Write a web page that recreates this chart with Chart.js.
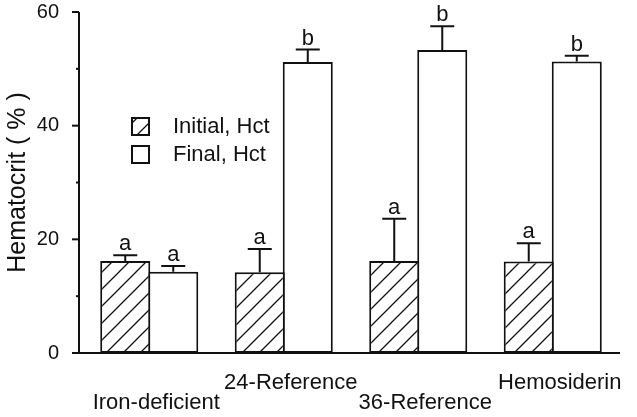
<!DOCTYPE html>
<html>
<head>
<meta charset="utf-8">
<script src="https://cdn.jsdelivr.net/npm/chart.js@4.4.1/dist/chart.umd.min.js"></script>
<style>
  html, body { margin: 0; padding: 0; background: #fff; }
  #wrap { width: 637px; height: 417px; }
</style>
</head>
<body>
<div id="wrap"><canvas id="hctChart" width="637" height="417"></canvas></div>
<script>
// ---- data ----
const categories = ['Iron-deficient', '24-Reference', '36-Reference', 'Hemosiderin'];
const initialHct = [16.2, 14.2, 16.2, 16.1];
const initialErr = [1.0, 4.1, 7.4, 3.2];
const finalHct = [14.3, 51.2, 53.3, 51.3];
const finalErr = [1.0, 2.2, 4.2, 1.0];
const initialLetters = ['a', 'a', 'a', 'a'];
const finalLetters = ['a', 'b', 'b', 'b'];
const yTicks = [0, 20, 40, 60];

const FONT = "'Liberation Sans', Arial, Helvetica, sans-serif";
const INK = '#111';

// diagonal hatch for the initial bars
function makeHatch() {
    const s = 17;
    const c = document.createElement('canvas');
    c.width = s; c.height = s;
    const g = c.getContext('2d');
    g.fillStyle = '#fff';
    g.fillRect(0, 0, s, s);
    g.strokeStyle = INK;
    g.lineWidth = 1.3;
    g.beginPath();
    g.moveTo(-2, s + 2); g.lineTo(s + 2, -2);
    g.moveTo(-2, 2); g.lineTo(2, -2);
    g.moveTo(s - 2, s + 2); g.lineTo(s + 2, s - 2);
    g.stroke();
    return g.createPattern(c, 'repeat');
}
const hatch = makeHatch();

// staggered x labels: odd ones sit on the first line
const xLabels = categories.map((c, i) => i % 2 === 0 ? ['', c] : [c, '']);

const errs = [initialErr, finalErr];
const letters = [initialLetters, finalLetters];

// axes with long/short ticks, error bars and letters, legend inside plot
const decorations = {
    id: 'decorations',
    afterDatasetsDraw(chart) {
        const ctx = chart.ctx;
        const area = chart.chartArea;
        const y = chart.scales.y;
        ctx.save();
        ctx.strokeStyle = INK;
        ctx.fillStyle = INK;

        // error bars + letters
        chart.data.datasets.forEach((ds, di) => {
            const meta = chart.getDatasetMeta(di);
            meta.data.forEach((bar, i) => {
                const top = y.getPixelForValue(ds.data[i] + errs[di][i]);
                ctx.lineWidth = 2;
                ctx.beginPath();
                ctx.moveTo(bar.x, bar.y);
                ctx.lineTo(bar.x, top);
                ctx.moveTo(bar.x - 12, top);
                ctx.lineTo(bar.x + 12, top);
                ctx.stroke();
                ctx.font = '22px ' + FONT;
                ctx.textAlign = 'center';
                ctx.textBaseline = 'alphabetic';
                ctx.fillText(letters[di][i], bar.x, top - 5);
            });
        });

        // axes
        const ax = area.left - 3;
        ctx.lineWidth = 2;
        ctx.beginPath();
        ctx.moveTo(ax, y.getPixelForValue(60));
        ctx.lineTo(ax, area.bottom);
        ctx.moveTo(ax - 7, area.bottom);
        ctx.lineTo(area.right, area.bottom);
        ctx.stroke();
        for (let v = 10; v <= 60; v += 10) {
            const py = y.getPixelForValue(v);
            const len = v % 20 === 0 ? 7 : 3;
            ctx.beginPath();
            ctx.moveTo(ax - len, py);
            ctx.lineTo(ax, py);
            ctx.stroke();
        }

        // legend
        const lx = area.left + 50;
        const rows = [{ fill: hatch, text: chart.data.datasets[0].label, y: area.top + 106 },
                      { fill: '#fff', text: chart.data.datasets[1].label, y: area.top + 134 }];
        rows.forEach(r => {
            ctx.fillStyle = r.fill;
            ctx.fillRect(lx, r.y, 17, 17);
            ctx.lineWidth = 2;
            ctx.strokeRect(lx, r.y, 17, 17);
            ctx.fillStyle = INK;
            ctx.font = '22px ' + FONT;
            ctx.textAlign = 'left';
            ctx.textBaseline = 'middle';
            ctx.fillText(r.text, lx + 41, r.y + 9);
        });
        ctx.restore();
    }
};

new Chart(document.getElementById('hctChart'), {
    type: 'bar',
    data: {
        labels: xLabels,
        datasets: [
            { label: 'Initial, Hct', data: initialHct, backgroundColor: hatch,
              borderColor: INK, borderWidth: 2, borderSkipped: false },
            { label: 'Final, Hct', data: finalHct, backgroundColor: '#fff',
              borderColor: INK, borderWidth: 2, borderSkipped: false }
        ]
    },
    options: {
        responsive: false,
        animation: false,
        devicePixelRatio: 1,
        categoryPercentage: 0.714,
        barPercentage: 1.042,
        layout: { padding: { top: 12, right: 17, left: 0, bottom: 0 } },
        plugins: { legend: { display: false }, tooltip: { enabled: false } },
        scales: {
            x: {
                grid: { display: false },
                border: { display: false },
                ticks: { color: INK, font: { family: FONT, size: 22, lineHeight: 0.95 },
                          padding: 11, labelOffset: 7, maxRotation: 0, autoSkip: false },
                afterFit: s => { s.height = 64; s.paddingTop = 0; s.paddingBottom = 0; }
            },
            y: {
                min: 0, max: 60,
                grid: { display: false },
                border: { display: false },
                afterBuildTicks: s => { s.ticks = yTicks.map(v => ({ value: v })); },
                ticks: { color: INK, font: { family: FONT, size: 20 }, padding: 15 },
                title: { display: true, text: 'Hematocrit ( % )', color: INK,
                         font: { family: FONT, size: 25 }, padding: { top: 3, bottom: 4 } },
                afterFit: s => { s.width = 82; s.paddingTop = 0; s.paddingBottom = 0; }
            }
        }
    },
    plugins: [decorations]
});
</script>
</body>
</html>
